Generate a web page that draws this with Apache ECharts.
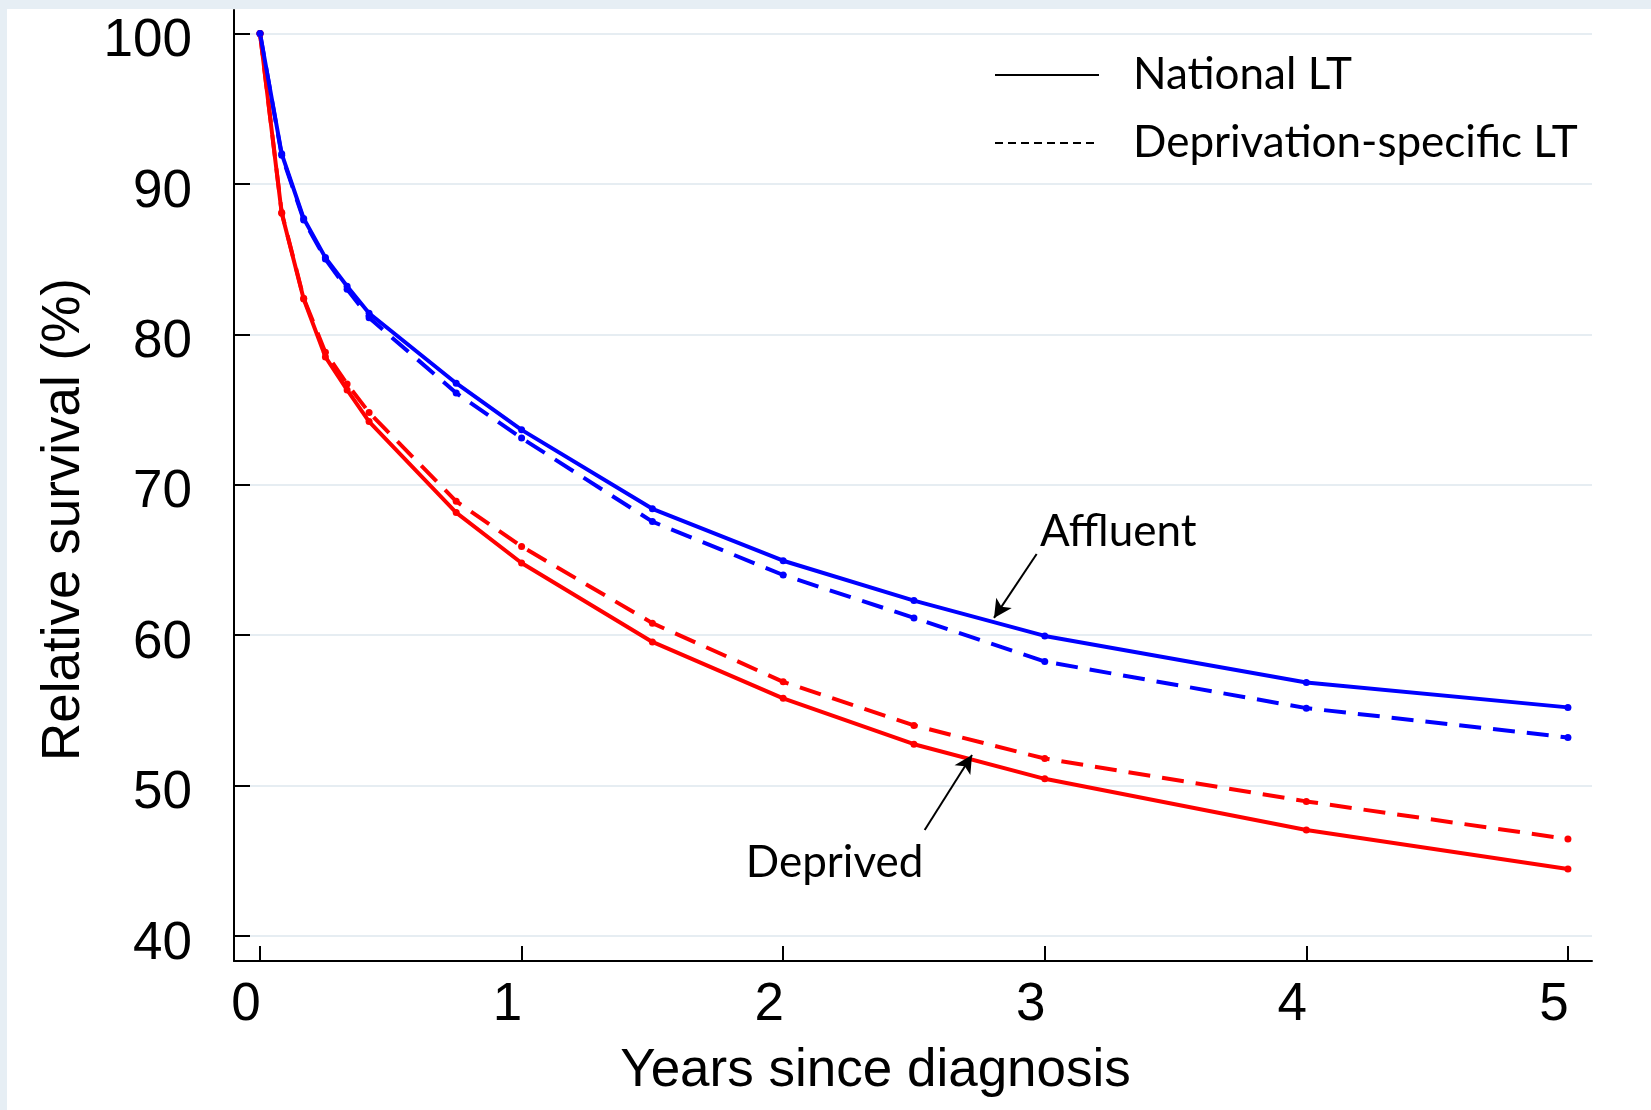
<!DOCTYPE html>
<html>
<head>
<meta charset="utf-8">
<title>Relative survival by deprivation</title>
<script src="https://cdn.jsdelivr.net/npm/echarts@6/dist/echarts.min.js"></script>
<style>
  html, body { margin: 0; padding: 0; background: #e6eef4; }
  #panel { position: absolute; left: 7px; top: 9px; right: 0; bottom: 0; background: #fff; }
  #main { position: absolute; left: 0; top: 0; width: 1651px; height: 1110px; }
</style>
</head>
<body>
<div id="panel"></div>
<div id="main"></div>
<script>
// years since diagnosis at which survival was estimated
const years = [0, 0.083, 0.167, 0.25, 0.333, 0.417, 0.75, 1, 1.5, 2, 2.5, 3, 4, 5];

// relative survival (%)
const affluentNational    = [100, 92.0, 87.7, 85.1, 83.2, 81.4, 76.75, 73.65, 68.4, 64.95, 62.3, 59.95, 56.85, 55.2];
const affluentDeprivation = [100, 91.9, 87.6, 85.0, 83.0, 81.1, 76.1, 73.1, 67.55, 64.0, 61.15, 58.25, 55.15, 53.2];
const deprivedNational    = [100, 88.05, 82.35, 78.5, 76.3, 74.2, 68.15, 64.8, 59.55, 55.8, 52.75, 50.45, 47.05, 44.45];
const deprivedDeprivation = [100, 88.1, 82.4, 78.8, 76.7, 74.8, 68.9, 65.9, 60.8, 56.9, 54.0, 51.8, 48.95, 46.45];

const xTicks = [0, 1, 2, 3, 4, 5];
const yTicks = [40, 50, 60, 70, 80, 90, 100];

window.onload = function () {
  const chartDom = document.getElementById('main');
  const myChart = echarts.init(chartDom);

  const pairs = (values) => years.map((t, i) => [t, values[i]]);
  const tickFont = { fontFamily: 'Liberation Sans, Arial, sans-serif', fontSize: 53, color: '#000' };
  const noteFont = { fontFamily: 'Lato, sans-serif', fontSize: 44, color: '#000' };

  function curve(name, values, color, dashed) {
    return {
      type: 'line',
      name: name,
      data: pairs(values),
      symbol: 'circle',
      symbolSize: 7,
      showSymbol: true,
      lineStyle: { color: color, width: 4, type: dashed ? [22, 12] : 'solid' },
      itemStyle: { color: color },
      emphasis: { disabled: true },
      animation: false
    };
  }

  const affluentSolid = curve('Affluent national', affluentNational, '#0000ff', false);
  const deprivedSolid = curve('Deprived national', deprivedNational, '#ff0000', false);

  // arrow + label for each group
  const arrow = {
    silent: true,
    animation: false,
    symbol: ['none', 'arrow'],
    symbolSize: [14, 18],
    lineStyle: { color: '#000', width: 2, type: 'solid' },
    label: { show: false },
    emphasis: { disabled: true }
  };
  const note = {
    silent: true,
    animation: false,
    symbol: 'circle',
    symbolSize: 0,
    label: Object.assign({ show: true, position: 'right', distance: 0, formatter: '{b}' }, noteFont)
  };
  affluentSolid.markLine = Object.assign({ data: [[{ coord: [2.969, 65.4] }, { coord: [2.806, 61.15] }]] }, arrow);
  affluentSolid.markPoint = Object.assign({ data: [{ name: 'Affluent', coord: [2.982, 66.85] }] }, note);
  deprivedSolid.markLine = Object.assign({ data: [[{ coord: [2.541, 47.05] }, { coord: [2.722, 52.04] }]] }, arrow);
  deprivedSolid.markPoint = Object.assign({ data: [{ name: 'Deprived', coord: [1.857, 44.9] }] }, note);

  const option = {
    backgroundColor: 'transparent',
    animation: false,
    grid: { left: 234, right: 59, top: 10, bottom: 149, outerBoundsMode: 'none' },
    legend: {
      data: ['National LT', 'Deprivation-specific LT'],
      orient: 'vertical',
      left: 994,
      top: 53,
      padding: 0,
      itemWidth: 104,
      itemHeight: 14,
      itemGap: 24,
      selectedMode: false,
      itemStyle: { opacity: 0 },
      textStyle: Object.assign({ padding: [0, 0, 0, 29] }, noteFont)
    },
    xAxis: {
      type: 'value',
      min: -0.0994,
      max: 5.092,
      axisLine: { show: true, onZero: false, lineStyle: { color: '#000', width: 2 } },
      axisTick: { show: true, inside: true, length: 15, customValues: xTicks, lineStyle: { color: '#000', width: 2 } },
      axisLabel: Object.assign({ customValues: xTicks, margin: 18, padding: [0, 28, 0, 0] }, tickFont),
      splitLine: { show: false },
      name: 'Years since diagnosis',
      nameLocation: 'middle',
      nameGap: 84,
      nameTextStyle: Object.assign({ padding: [0, 75, 0, 0] }, tickFont)
    },
    yAxis: {
      type: 'value',
      min: 38.34,
      max: 101.56,
      axisLine: { show: true, onZero: false, lineStyle: { color: '#000', width: 2 } },
      axisTick: { show: true, inside: true, length: 16, customValues: yTicks, lineStyle: { color: '#000', width: 2 } },
      axisLabel: Object.assign({ customValues: yTicks, margin: 42, verticalAlign: 'top', lineHeight: 16 }, tickFont),
      splitLine: { show: true, lineStyle: { color: '#e6edf2', width: 2 } },
      name: 'Relative survival (%)',
      nameLocation: 'middle',
      nameRotate: 90,
      nameGap: 143,
      nameTextStyle: Object.assign({ padding: [0, 68, 0, 0] }, tickFont)
    },
    series: [
      // legend-only entries (black line styles)
      { type: 'line', name: 'National LT', data: [], symbol: 'none',
        lineStyle: { color: '#000', width: 2, type: 'solid' }, itemStyle: { color: '#000' } },
      { type: 'line', name: 'Deprivation-specific LT', data: [], symbol: 'none',
        lineStyle: { color: '#000', width: 2, type: [8, 5] }, itemStyle: { color: '#000' } },
      curve('Deprived deprivation-specific', deprivedDeprivation, '#ff0000', true),
      curve('Affluent deprivation-specific', affluentDeprivation, '#0000ff', true),
      deprivedSolid,
      affluentSolid
    ]
  };

  option && myChart.setOption(option);
};
</script>
</body>
</html>
